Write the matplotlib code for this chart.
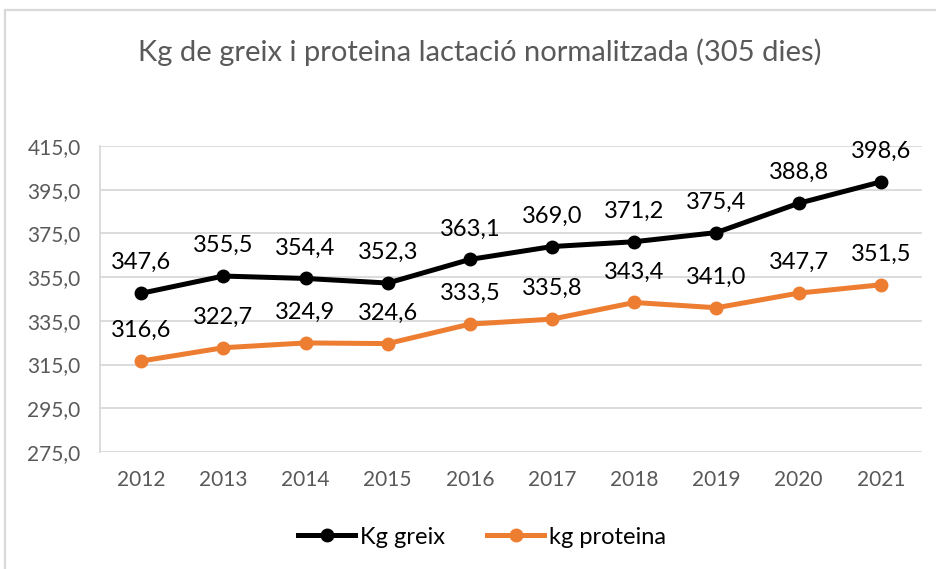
import matplotlib
matplotlib.use("Agg")
import matplotlib.pyplot as plt
from matplotlib.patches import Rectangle
from matplotlib.ticker import FuncFormatter

years = ["2012", "2013", "2014", "2015", "2016", "2017", "2018", "2019", "2020", "2021"]
kg_greix = [347.6, 355.5, 354.4, 352.3, 363.1, 369.0, 371.2, 375.4, 388.8, 398.6]
kg_proteina = [316.6, 322.7, 324.9, 324.6, 333.5, 335.8, 343.4, 341.0, 347.7, 351.5]
y_ticks = [275, 295, 315, 335, 355, 375, 395, 415]

plt.rcParams['font.family'] = ['Lato', 'DejaVu Sans']

W, H = 937, 569
fig = plt.figure(figsize=(W / 100, H / 100), dpi=100)

# chart frame (cut off at right and bottom like the screenshot)
fig.patches.append(Rectangle((5 / W, -0.05), 1.2, 1 - 10 / H + 0.05, transform=fig.transFigure,
                             fill=False, edgecolor='#d9d9d9', linewidth=1.6))

ax = fig.add_axes([100 / W, 1 - 452 / H, 822 / W, 306 / H])
x = list(range(len(years)))

ax.plot(x, kg_greix, color='black', lw=3.6, marker='o', ms=9, label='Kg greix', zorder=3)
ax.plot(x, kg_proteina, color='#ed7d31', lw=3.6, marker='o', ms=9, label='kg proteina', zorder=3)

for xi, v in zip(x, kg_greix):
    ax.annotate(f"{v:.1f}".replace('.', ','), (xi, v), xytext=(0, 22), textcoords='offset points',
                ha='center', va='center', fontsize=17, color='black')
for xi, v in zip(x, kg_proteina):
    ax.annotate(f"{v:.1f}".replace('.', ','), (xi, v), xytext=(0, 22), textcoords='offset points',
                ha='center', va='center', fontsize=17, color='black')

ax.set_xlim(-0.5, len(years) - 0.5)
ax.set_ylim(275, 415)
ax.set_yticks(y_ticks)
ax.yaxis.set_major_formatter(FuncFormatter(lambda v, p: f"{v:.1f}".replace('.', ',')))
ax.set_xticks(x)
ax.set_xticklabels(years)
ax.grid(axis='y', color='#d9d9d9', lw=1.3)
ax.set_axisbelow(True)
for s in ['top', 'right', 'bottom']:
    ax.spines[s].set_visible(False)
ax.spines['left'].set_color('#d9d9d9')
ax.spines['left'].set_linewidth(1.3)
ax.tick_params(axis='both', length=0, labelsize=15, colors='#595959')
ax.tick_params(axis='y', pad=14)
ax.tick_params(axis='x', pad=13)

fig.text(480 / W, 1 - 52 / H, "Kg de greix i proteina lactació normalitzada (305 dies)",
         ha='center', va='center', fontsize=21, color='#595959')

fig.legend(loc='center', bbox_to_anchor=(482 / W, 1 - 537 / H), ncol=2, frameon=False,
           fontsize=17, handlelength=2.4, columnspacing=1.8, handletextpad=0.2)

fig.savefig("out.png", dpi=100)
